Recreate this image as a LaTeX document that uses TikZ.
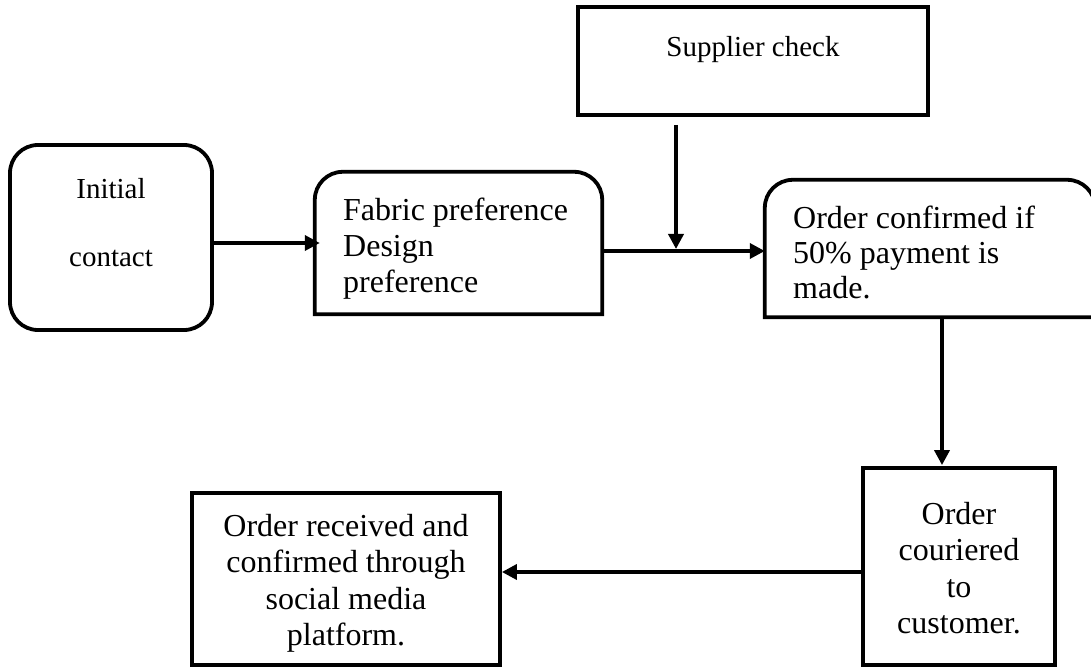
\documentclass[tikz,border=0pt]{standalone}
\usepackage{fontspec}
\setmainfont{Liberation Serif}
\usetikzlibrary{arrows.meta}
\begin{document}
\begin{tikzpicture}[x=1pt,y=-1pt,
  panel/.style={draw=black, line width=3.8pt, inner sep=0pt},
  roundpanel/.style={panel, rounded corners=28pt},
  ghost/.style={inner sep=0pt},
  caption/.style={inner sep=0pt, font=\fontsize{32}{36.5}\selectfont},
  flow/.style={line width=3.6pt, -{Triangle[length=15pt,width=15pt]}},
  topround/.style={line width=3.8pt},
]
% canvas
\useasboundingbox[fill=white] (0,0) rectangle (1091,668);

% boxes
\node[roundpanel, minimum width=202pt, minimum height=185pt] (init) at (111,237.5) {};
\node[ghost, minimum width=287pt, minimum height=142pt] (fabric) at (458.5,243) {};
\node[panel, minimum width=350pt, minimum height=108pt] (supplier) at (753,61) {};
\node[ghost, minimum width=330pt, minimum height=137pt] (confirm) at (930,248.5) {};
\node[panel, minimum width=192pt, minimum height=197pt] (courier) at (959,566.5) {};
\node[panel, minimum width=308pt, minimum height=172pt] (received) at (346,579) {};

% frames with rounded upper corners only
\draw[topround] (fabric.south west) -- ([yshift=-28pt]fabric.north west)
  arc[start angle=180, end angle=90, radius=28pt] -- ([xshift=-28pt]fabric.north east)
  arc[start angle=90, end angle=0, radius=28pt] -- (fabric.south east) -- cycle;
\draw[topround] (confirm.south west) -- ([yshift=-28pt]confirm.north west)
  arc[start angle=180, end angle=90, radius=28pt] -- ([xshift=-28pt]confirm.north east)
  arc[start angle=90, end angle=0, radius=28pt] -- (confirm.south east) -- cycle;

% texts
\node[caption, font=\fontsize{29}{68}\selectfont, align=center, anchor=north] (init-text) at (111,178) {Initial\\contact};
\node[caption, font=\fontsize{29}{34}\selectfont, anchor=base] (supplier-text) at (753,57) {Supplier check};
\node[caption, font=\fontsize{32}{36}\selectfont, align=left, anchor=north west] (fabric-text) at (343,198) {Fabric preference\\Design\\preference};
\node[caption, font=\fontsize{32}{35}\selectfont, align=left, anchor=north west] (confirm-text) at (793,206) {Order confirmed if\\50\% payment is\\made.};
\node[caption, align=center, anchor=north] (courier-text) at (959,502) {Order\\couriered\\to\\customer.};
\node[caption, align=center, anchor=north] (received-text) at (346,514) {Order received and\\confirmed through\\social media\\platform.};

% connector lanes
\coordinate (row1) at (0,243);
\coordinate (join) at (676,251);
\coordinate (col) at (942,0);
\coordinate (row3) at (0,572);

% connectors
\draw[flow, shorten >=-5pt] (init.east |- row1) -- (fabric.west |- row1);
\draw[flow] (fabric.east |- join) -- (confirm.west |- join);
\draw[flow, shorten <=8pt, shorten >=2pt] (supplier.south -| join) -- (join);
\draw[flow, shorten >=1pt] (confirm.south -| col) -- (courier.north -| col);
\draw[flow] (courier.west |- row3) -- (received.east |- row3);
\end{tikzpicture}
\end{document}
